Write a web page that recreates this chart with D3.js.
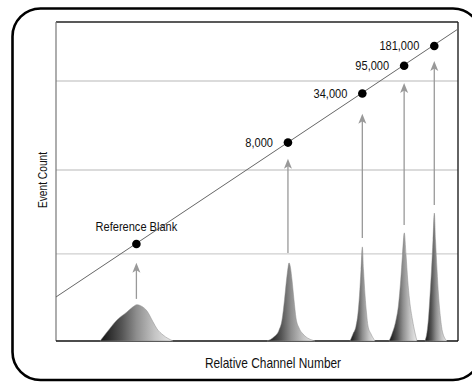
<!DOCTYPE html>
<html>
<head>
<meta charset="utf-8">
<script src="https://cdn.jsdelivr.net/npm/d3@7/dist/d3.min.js"></script>
<style>
  html, body { margin: 0; padding: 0; background: #fff; overflow: hidden; }
  svg { display: block; }
  svg text { font-family: "Liberation Sans", Arial, sans-serif; fill: #111; }
</style>
</head>
<body>
<svg id="chart" width="472" height="383"></svg>
<script>
// ---- data ----
const markerLabels   = ["Reference Blank", "8,000", "34,000", "95,000", "181,000"];
const markerChannels = [200, 577, 762, 866, 941];
const markerCounts   = [30.4, 62.2, 77.6, 86.3, 92.5];
const arrowBases     = [13.2, 27.6, 32.3, 36.4, 42.6];
const arrowTips      = [24.5, 57.1, 71.2, 80.9, 87.8];
const lineChannels   = [0, 1000];
const lineCounts     = [13.8, 97.8];
const gridCounts     = [27.3, 53.6, 81.5];

const peakBlankCh  = [109.5, 126.9, 151.7, 176.6, 191.5, 201.5, 211.4, 226.4, 241.3, 251.3, 266.2, 291.0];
const peakBlankCnt = [0, 2.8, 6.6, 9.1, 10.7, 11.4, 11.0, 9.4, 6.0, 3.8, 1.9, 0];
const peak8kCh     = [524.9, 542.3, 554.7, 562.2, 568.4, 573.4, 577.1, 579.6, 583.4, 587.1, 592.0, 597.0, 604.5, 614.4, 644.3];
const peak8kCnt    = [0, 1.3, 3.4, 6.6, 12.9, 19.1, 22.9, 24.5, 22.9, 19.1, 12.9, 7.2, 4.1, 2.2, 0];
const peak34kCh    = [731.4, 738.8, 746.3, 751.3, 755.0, 758.7, 762.0, 765.0, 768.7, 772.4, 776.1, 783.6, 793.6];
const peak34kCnt   = [0, 2.2, 4.7, 8.8, 14.4, 22.3, 29.5, 22.3, 14.4, 8.8, 4.7, 2.2, 0];
const peak95kCh    = [828.4, 835.8, 845.8, 852.0, 857.5, 861.9, 866.4, 870.7, 874.9, 879.4, 886.8, 893.1, 898.0];
const peak95kCnt   = [0, 2.2, 6.6, 11.3, 19.1, 27.0, 33.9, 27.0, 19.1, 12.9, 6.6, 2.5, 0];
const peak181kCh   = [917.9, 922.9, 926.6, 930.4, 934.1, 937.8, 941.1, 944.1, 947.8, 951.5, 956.5, 961.5, 972.7];
const peak181kCnt  = [0, 2.8, 7.2, 14.4, 22.3, 31.7, 40.1, 31.7, 22.3, 14.4, 7.2, 2.8, 0];

const xTitle = "Relative Channel Number";
const yTitle = "Event Count";

// ---- layout ----
const svg = d3.select("#chart");
const plot = { left: 56, right: 458, top: 22, bottom: 341 };
const x = d3.scaleLinear().domain([0, 1000]).range([plot.left, plot.right]);
const y = d3.scaleLinear().domain([0, 100]).range([plot.bottom, plot.top]);
const NARROW = 0.85;

// outer rounded frame; its right side lies beyond the picture edge
const fL = 12.5, fT = 8.5, fR = 481, fB = 380, fr = 28;
const fp = d3.path();
fp.moveTo(fR, fT + fr);
fp.arcTo(fR, fT, fR - fr, fT, fr);
fp.lineTo(fL + fr, fT);
fp.arcTo(fL, fT, fL, fT + fr, fr);
fp.lineTo(fL, fB - fr);
fp.arcTo(fL, fB, fL + fr, fB, fr);
fp.lineTo(fR - fr, fB);
fp.arcTo(fR, fB, fR, fB - fr, fr);
svg.append("path").attr("d", fp.toString())
  .attr("fill", "none").attr("stroke", "#000").attr("stroke-width", 2.6);

// gradient
const defs = svg.append("defs");
const grad = defs.append("linearGradient").attr("id", "peakGrad")
  .attr("x1", 0).attr("x2", 1).attr("y1", 0).attr("y2", 0);
[[0, "#111"], [0.3, "#555"], [0.5, "#8e8e8e"], [0.75, "#c4c4c4"], [1, "#ececec"]]
  .forEach(([o, c]) => grad.append("stop").attr("offset", o).attr("stop-color", c));

const clip = defs.append("clipPath").attr("id", "plotClip");
clip.append("rect").attr("x", plot.left).attr("y", plot.top)
  .attr("width", plot.right - plot.left).attr("height", plot.bottom - plot.top);

// gridlines
svg.append("g").selectAll("line").data(gridCounts).join("line")
  .attr("x1", plot.left).attr("x2", plot.right)
  .attr("y1", d => y(d)).attr("y2", d => y(d))
  .attr("stroke", "#cfcfcf").attr("stroke-width", 1.4);

// plot frame
svg.append("line").attr("x1", plot.left).attr("x2", plot.right).attr("y1", plot.top).attr("y2", plot.top)
  .attr("stroke", "#222").attr("stroke-width", 1.4);
svg.append("line").attr("x1", plot.right).attr("x2", plot.right).attr("y1", plot.top).attr("y2", plot.bottom)
  .attr("stroke", "#222").attr("stroke-width", 1.4);
svg.append("line").attr("x1", plot.left).attr("x2", plot.left).attr("y1", plot.top).attr("y2", plot.bottom)
  .attr("stroke", "#777").attr("stroke-width", 1.2);
svg.append("line").attr("x1", plot.left).attr("x2", plot.right).attr("y1", plot.bottom).attr("y2", plot.bottom)
  .attr("stroke", "#111").attr("stroke-width", 1.5);

// peaks
const peaks = [
  [peakBlankCh, peakBlankCnt], [peak8kCh, peak8kCnt], [peak34kCh, peak34kCnt],
  [peak95kCh, peak95kCnt], [peak181kCh, peak181kCnt]
];
const area = d3.area()
  .x(d => x(d[0])).y0(y(0)).y1(d => y(d[1]))
  .curve(d3.curveMonotoneX);
const peakG = svg.append("g");
peaks.forEach(([ch, cnt]) => {
  const pts = ch.map((c, i) => [c, cnt[i]]);
  peakG.append("path").attr("d", area(pts))
    .attr("fill", "url(#peakGrad)")
    .attr("stroke", "#8a8a8a").attr("stroke-width", 0.5);
});

// diagonal line
const line = d3.line().x(d => x(d[0])).y(d => y(d[1]));
svg.append("path")
  .attr("clip-path", "url(#plotClip)")
  .attr("d", line(lineChannels.map((c, i) => [c, lineCounts[i]])))
  .attr("fill", "none").attr("stroke", "#666").attr("stroke-width", 1);

// arrows
const arrowG = svg.append("g");
markerChannels.forEach((c, i) => {
  const ax = x(c), yb = y(arrowBases[i]), yt = y(arrowTips[i]);
  arrowG.append("line").attr("x1", ax).attr("x2", ax).attr("y1", yb).attr("y2", yt + 6)
    .attr("stroke", "#999").attr("stroke-width", 1.3);
  const p = d3.path();
  p.moveTo(ax, yt); p.lineTo(ax - 4, yt + 10); p.lineTo(ax, yt + 7.5); p.lineTo(ax + 4, yt + 10); p.closePath();
  arrowG.append("path").attr("d", p.toString()).attr("fill", "#999");
});

// markers
svg.append("g").selectAll("circle").data(markerChannels).join("circle")
  .attr("cx", d => x(d)).attr("cy", (d, i) => y(markerCounts[i]))
  .attr("r", 4.3).attr("fill", "#000");

// condensed text helper
function ctext(tx, ty, str, size, anchor, rot) {
  return svg.append("text")
    .attr("transform", `translate(${tx},${ty})` + (rot ? ` rotate(${rot})` : "") + ` scale(${NARROW},1)`)
    .attr("text-anchor", anchor).attr("font-size", size).text(str);
}

// marker labels
markerChannels.forEach((c, i) => {
  if (i === 0) ctext(x(c), y(markerCounts[i]) - 13, markerLabels[i], 13, "middle");
  else ctext(x(c) - 15, y(markerCounts[i]) + 4.5, markerLabels[i], 13, "end");
});

// axis titles
ctext(273, 368, xTitle, 14, "middle");
ctext(46.5, 180, yTitle, 12, "middle", -90);
</script>
</body>
</html>
